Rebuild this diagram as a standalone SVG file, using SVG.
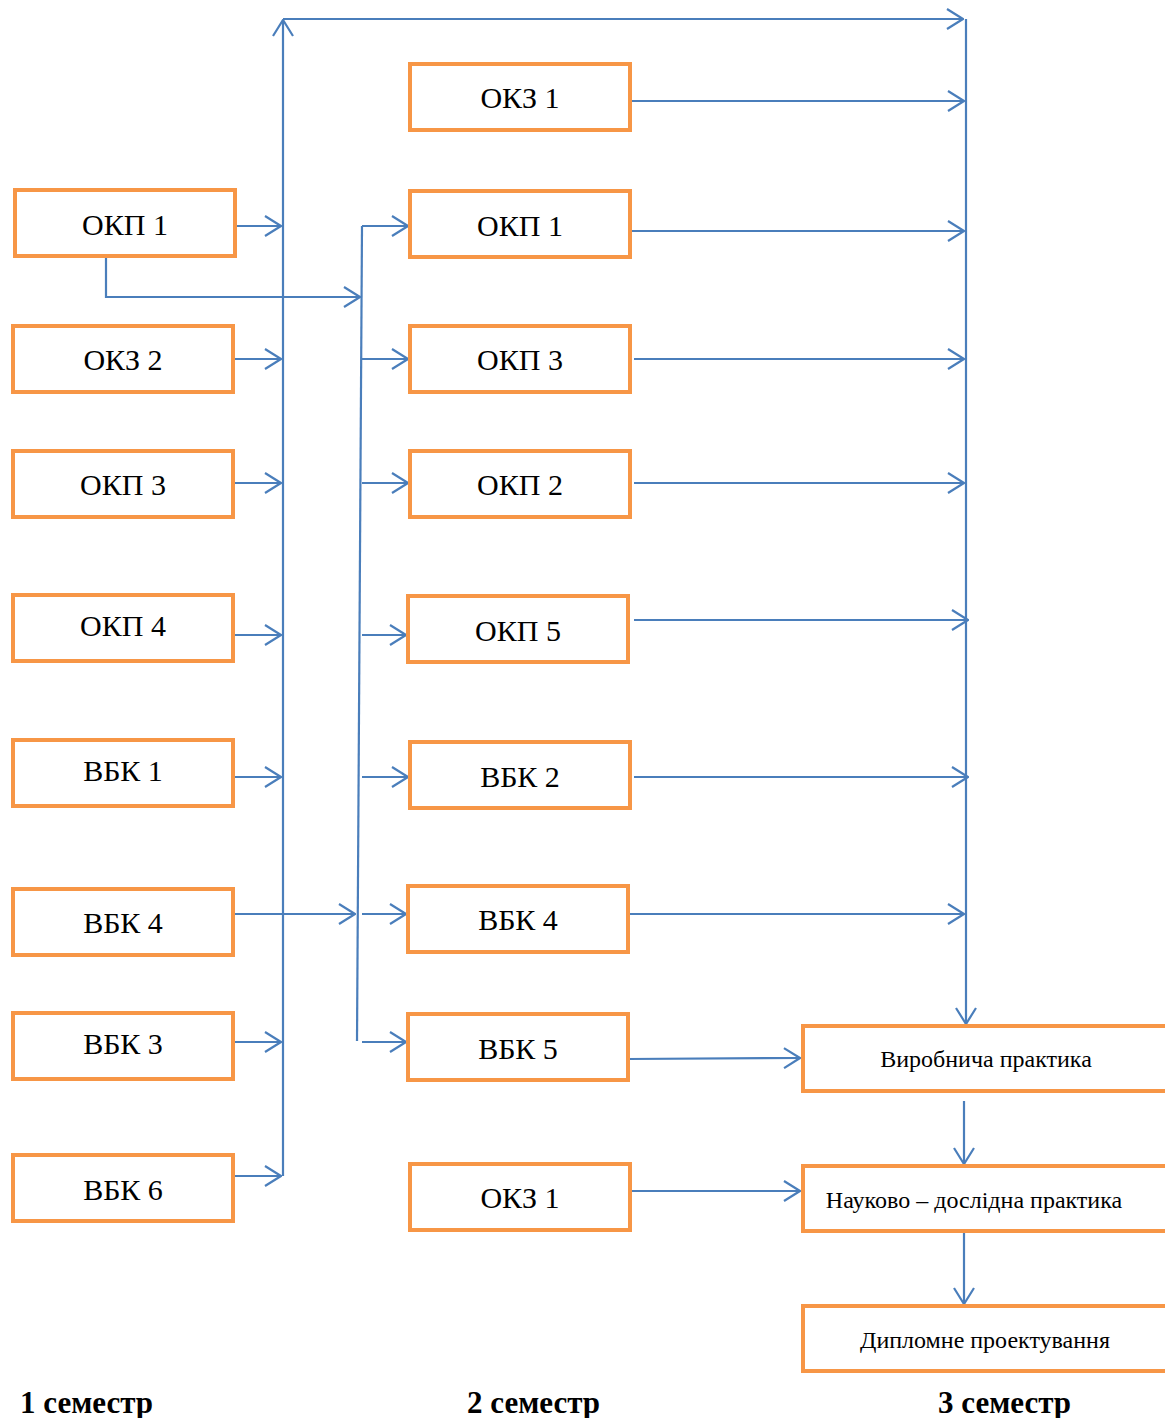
<svg xmlns="http://www.w3.org/2000/svg" width="1165" height="1418" viewBox="0 0 1165 1418">
<defs>
<marker id="ah" viewBox="0 0 18 22" refX="17" refY="11" markerWidth="18" markerHeight="22" markerUnits="userSpaceOnUse" orient="auto">
<path d="M1,1 L17,11 L1,21" fill="none" stroke="#4A7EBB" stroke-width="2.2"/>
</marker>
</defs>
<style>
.box{fill:#fff;stroke:#F79646;stroke-width:4}
.lbl{font-family:"Liberation Serif",serif;font-size:30px;fill:#000;text-anchor:middle}
.sl{font-family:"Liberation Serif",serif;font-size:24px;fill:#000;text-anchor:middle}
.sem{font-family:"Liberation Serif",serif;font-size:31px;font-weight:bold;fill:#000}
.c{fill:none;stroke:#4A7EBB;stroke-width:2.2}
.a{marker-end:url(#ah)}
</style>
<rect width="1165" height="1418" fill="#fff"/>

<g id="connectors">
<path class="c a" d="M283,1176 L283,20"/>
<path class="c a" d="M283,19 L963,19"/>
<path class="c a" d="M966,19 L966,1024"/>
<path class="c a" d="M235,226 L281,226"/>
<path class="c a" d="M233,359 L281,359"/>
<path class="c a" d="M233,483 L281,483"/>
<path class="c a" d="M233,635 L281,635"/>
<path class="c a" d="M233,777 L281,777"/>
<path class="c a" d="M233,914 L355,914"/>
<path class="c a" d="M233,1042 L281,1042"/>
<path class="c a" d="M233,1176 L281,1176"/>
<path class="c a" d="M106,258 L106,297 L360,297"/>
<path class="c" d="M362,226 L357,1041"/>
<path class="c a" d="M362,226 L408,226"/>
<path class="c a" d="M362,359 L408,359"/>
<path class="c a" d="M362,483 L408,483"/>
<path class="c a" d="M362,635 L406,635"/>
<path class="c a" d="M362,777 L408,777"/>
<path class="c a" d="M362,914 L406,914"/>
<path class="c a" d="M362,1042 L406,1042"/>
<path class="c a" d="M630,101 L964,101"/>
<path class="c a" d="M630,231 L964,231"/>
<path class="c a" d="M634,359 L964,359"/>
<path class="c a" d="M634,483 L964,483"/>
<path class="c a" d="M634,620 L968,620"/>
<path class="c a" d="M634,777 L968,777"/>
<path class="c a" d="M628,914 L964,914"/>
<path class="c a" d="M628,1059 L800,1058"/>
<path class="c a" d="M628,1191 L800,1191"/>
<path class="c a" d="M964,1101 L964,1164"/>
<path class="c a" d="M964,1231 L964,1304"/>
</g>

<g id="l-okp1"><rect class="box" x="15" y="190" width="220" height="66"/><text class="lbl" x="125" y="235">ОКП 1</text></g>
<g id="l-okz2"><rect class="box" x="13" y="326" width="220" height="66"/><text class="lbl" x="123" y="370">ОКЗ 2</text></g>
<g id="l-okp3"><rect class="box" x="13" y="451" width="220" height="66"/><text class="lbl" x="123" y="495">ОКП 3</text></g>
<g id="l-okp4"><rect class="box" x="13" y="595" width="220" height="66"/><text class="lbl" x="123" y="636">ОКП 4</text></g>
<g id="l-vbk1"><rect class="box" x="13" y="740" width="220" height="66"/><text class="lbl" x="123" y="781">ВБК 1</text></g>
<g id="l-vbk4"><rect class="box" x="13" y="889" width="220" height="66"/><text class="lbl" x="123" y="933">ВБК 4</text></g>
<g id="l-vbk3"><rect class="box" x="13" y="1013" width="220" height="66"/><text class="lbl" x="123" y="1054">ВБК 3</text></g>
<g id="l-vbk6"><rect class="box" x="13" y="1155" width="220" height="66"/><text class="lbl" x="123" y="1200">ВБК 6</text></g>

<g id="m-okz1"><rect class="box" x="410" y="64" width="220" height="66"/><text class="lbl" x="520" y="108">ОКЗ 1</text></g>
<g id="m-okp1"><rect class="box" x="410" y="191" width="220" height="66"/><text class="lbl" x="520" y="236">ОКП 1</text></g>
<g id="m-okp3"><rect class="box" x="410" y="326" width="220" height="66"/><text class="lbl" x="520" y="370">ОКП 3</text></g>
<g id="m-okp2"><rect class="box" x="410" y="451" width="220" height="66"/><text class="lbl" x="520" y="495">ОКП 2</text></g>
<g id="m-okp5"><rect class="box" x="408" y="596" width="220" height="66"/><text class="lbl" x="518" y="641">ОКП 5</text></g>
<g id="m-vbk2"><rect class="box" x="410" y="742" width="220" height="66"/><text class="lbl" x="520" y="787">ВБК 2</text></g>
<g id="m-vbk4"><rect class="box" x="408" y="886" width="220" height="66"/><text class="lbl" x="518" y="930">ВБК 4</text></g>
<g id="m-vbk5"><rect class="box" x="408" y="1014" width="220" height="66"/><text class="lbl" x="518" y="1059">ВБК 5</text></g>
<g id="m-okz1b"><rect class="box" x="410" y="1164" width="220" height="66"/><text class="lbl" x="520" y="1208">ОКЗ 1</text></g>

<g id="r-vyr"><rect class="box" x="803" y="1026" width="380" height="65"/><text class="sl" x="986" y="1067">Виробнича практика</text></g>
<g id="r-nauk"><rect class="box" x="803" y="1166" width="380" height="65"/><text class="sl" x="974" y="1208">Науково – дослідна практика</text></g>
<g id="r-dypl"><rect class="box" x="803" y="1306" width="380" height="65"/><text class="sl" x="985" y="1348">Дипломне проектування</text></g>

<g id="semesters">
<text class="sem" x="20" y="1413">1 семестр</text>
<text class="sem" x="467" y="1413">2 семестр</text>
<text class="sem" x="938" y="1413">3 семестр</text>
</g>
</svg>
